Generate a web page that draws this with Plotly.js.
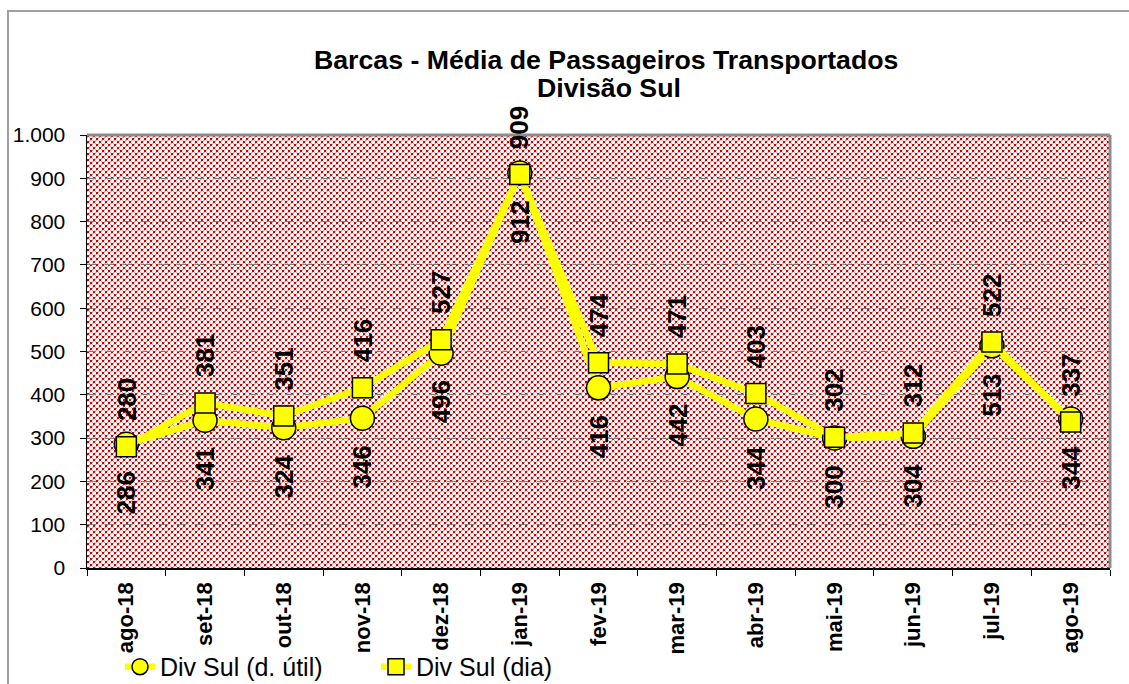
<!DOCTYPE html>
<html>
<head>
<meta charset="utf-8">
<script src="https://cdn.plot.ly/plotly-3.0.1.min.js"></script>
<style>
  html, body { margin:0; padding:0; background:#fff; }
  #frame { position:absolute; left:7px; top:10px; width:1140px; height:700px; border-left:2px solid #a0a0a0; border-top:2px solid #a0a0a0; pointer-events:none; z-index:5; }
  #chart { position:absolute; left:0; top:0; width:1129px; height:684px; }
</style>
</head>
<body>
<div id="chart"></div>
<div id="frame"></div>
<script>
const months = ["ago-18","set-18","out-18","nov-18","dez-18","jan-19","fev-19","mar-19","abr-19","mai-19","jun-19","jul-19","ago-19"];
const divSulUtil = [286, 341, 324, 346, 496, 912, 416, 442, 344, 300, 304, 513, 344];
const divSulDia  = [280, 381, 351, 416, 527, 909, 474, 471, 403, 302, 312, 522, 337];
const seriesNames = ["Div Sul (d. útil)", "Div Sul (dia)"];
const titleLines = ["Barcas - Média de Passageiros Transportados", "Divisão Sul"];

const FONT = "Arial, 'Liberation Sans', sans-serif";

// checkered red background pattern (svg data URI), 6x6 tile
const R = '#cc0000', P = '#f2a8a8';
const tileCells = [
  [0,0,R],[1,0,R],[0,1,R],[1,1,R],
  [3,3,R],[4,3,R],[3,4,R],[4,4,R],
  [2,2,P],[5,5,P],[2,5,P],[5,2,P],[2,0,P],[0,2,P],[3,5,P],[5,3,P]
];
let tile = tileCells.map(c => `<rect x='${c[0]}' y='${c[1]}' width='1' height='1' fill='${c[2]}'/>`).join('');
const W = 1023, H = 433;
const svg = `<svg xmlns='http://www.w3.org/2000/svg' width='${W}' height='${H}' shape-rendering='crispEdges'><defs><pattern id='p' width='6' height='6' patternUnits='userSpaceOnUse'><rect width='6' height='6' fill='#ffffff'/>${tile}</pattern></defs><rect width='${W}' height='${H}' fill='url(#p)'/></svg>`;
const bgSrc = 'data:image/svg+xml;charset=utf-8,' + encodeURIComponent(svg);

const traces = [
  {
    x: months, y: divSulUtil, name: seriesNames[0], type: 'scatter', mode: 'lines+markers',
    line: { color: '#ffff00', width: 6.5 },
    marker: { symbol: 'circle', size: 24, color: '#ffff00', line: { color: '#000000', width: 1.5 } }
  },
  {
    x: months, y: divSulDia, name: seriesNames[1], type: 'scatter', mode: 'lines+markers',
    line: { color: '#ffff00', width: 6.5 },
    marker: { symbol: 'square', size: 20, color: '#ffff00', line: { color: '#000000', width: 1.5 } }
  }
];

const labelFont = { family: FONT, size: 26, color: '#000' };
const annotations = [];
months.forEach((m, i) => {
  annotations.push({ x: m, y: divSulUtil[i], text: '<b>' + divSulUtil[i] + '</b>', showarrow: false, textangle: -90,
    yshift: -49, font: labelFont, xanchor: 'center', yanchor: 'middle' });
  annotations.push({ x: m, y: divSulDia[i], text: '<b>' + divSulDia[i] + '</b>', showarrow: false, textangle: -90,
    yshift: 47, font: labelFont, xanchor: 'center', yanchor: 'middle' });
});
annotations.push({ xref: 'paper', yref: 'paper', x: 0.507, y: 1.173, xanchor: 'center', yanchor: 'middle',
  showarrow: false, text: '<b>' + titleLines[0] + '</b>', font: { family: FONT, size: 26.7, color: '#000' } });
annotations.push({ xref: 'paper', yref: 'paper', x: 0.51, y: 1.1085, xanchor: 'center', yanchor: 'middle',
  showarrow: false, text: '<b>' + titleLines[1] + '</b>', font: { family: FONT, size: 26.7, color: '#000' } });

const layout = {
  width: 1129, height: 684,
  paper_bgcolor: 'rgba(0,0,0,0)', plot_bgcolor: 'rgba(0,0,0,0)',
  margin: { l: 87, r: 19, t: 135, b: 116, autoexpand: false },
  separators: ',.',
  font: { family: FONT, color: '#000' },
  xaxis: {
    type: 'category', range: [-0.5, 12.5], automargin: false,
    tickangle: -90, tickfont: { family: FONT, size: 22, color: '#000', weight: 'bold' },
    ticks: 'outside', ticklen: 6, tickcolor: '#000', tickson: 'boundaries', ticklabelstandoff: 4,
    showline: true, linecolor: '#000', linewidth: 1.5,
    showgrid: false, zeroline: false
  },
  yaxis: {
    range: [0, 1000], dtick: 100, tickformat: ',d', automargin: false,
    tickfont: { family: FONT, size: 21, color: '#000' },
    ticks: 'outside', ticklen: 6, tickcolor: '#000', ticklabelstandoff: 10,
    showline: true, linecolor: '#000', linewidth: 1.5,
    showgrid: true, gridcolor: '#7f7f7f', gridwidth: 1, griddash: 'dash',
    zeroline: false
  },
  images: [{
    source: bgSrc, xref: 'paper', yref: 'paper', x: 0, y: 1, sizex: 1, sizey: 1,
    sizing: 'stretch', xanchor: 'left', yanchor: 'top', layer: 'below'
  }],
  shapes: [
    { type: 'line', xref: 'paper', yref: 'paper', x0: 0, x1: 1, y0: 1, y1: 1, line: { color: '#8c8c8c', width: 3 } },
    { type: 'line', xref: 'paper', yref: 'paper', x0: 1, x1: 1, y0: 0, y1: 1, line: { color: '#8c8c8c', width: 3 } }
  ],
  showlegend: true,
  legend: {
    orientation: 'h', xref: 'container', yref: 'container',
    x: 0.1063, xanchor: 'left', y: 0.0249, yanchor: 'middle',
    font: { family: FONT, size: 25, color: '#000' },
    bgcolor: 'rgba(0,0,0,0)', entrywidth: 211, entrywidthmode: 'pixels'
  },
  annotations: annotations
};

Plotly.newPlot('chart', traces, layout, { displayModeBar: false, staticPlot: true });
</script>
</body>
</html>
